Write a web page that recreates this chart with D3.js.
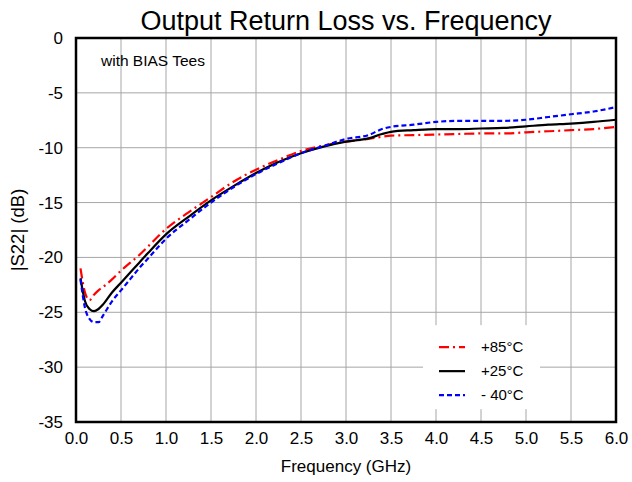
<!DOCTYPE html>
<html>
<head>
<meta charset="utf-8">
<script src="https://cdn.jsdelivr.net/npm/d3@7"></script>
<style>
  body { margin: 0; background: #fff; }
  text { font-family: "Liberation Sans", Arial, sans-serif; fill: #000; }
</style>
</head>
<body>
<div id="viz"></div>
<script>
// frequency points (GHz)
var freq = [0.05, 0.1, 0.15, 0.2, 0.25, 0.3, 0.4, 0.5, 0.6, 0.7, 0.8, 1.0, 1.25, 1.5, 1.75,
  2.0, 2.25, 2.5, 2.75, 3.0, 3.25, 3.4, 3.5, 3.75, 4.0, 4.25, 4.5, 4.75, 5.0, 5.25, 5.5, 5.75, 6.0];

// |S22| in dB for each temperature
var s22_85 = [-21.0, -23.2, -23.9, -23.4, -23.0, -22.7, -22.0, -21.2, -20.5, -19.8, -19.0, -17.4, -15.9, -14.5, -13.1,
  -12.0, -11.1, -10.3, -9.8, -9.45, -9.2, -9.0, -8.9, -8.85, -8.8, -8.75, -8.7, -8.7, -8.6, -8.5, -8.4, -8.3, -8.1];
var s22_25 = [-21.9, -24.0, -24.7, -24.9, -24.7, -24.3, -23.2, -22.3, -21.4, -20.5, -19.6, -17.9, -16.3, -14.8, -13.5,
  -12.3, -11.3, -10.5, -9.9, -9.45, -9.15, -8.75, -8.55, -8.4, -8.3, -8.3, -8.25, -8.2, -8.05, -7.9, -7.8, -7.65, -7.45];
var s22_m40 = [-22.0, -24.6, -25.6, -25.9, -25.9, -25.3, -24.0, -23.0, -22.0, -21.0, -20.1, -18.3, -16.6, -15.0, -13.6,
  -12.4, -11.4, -10.5, -9.85, -9.2, -8.85, -8.3, -8.1, -7.9, -7.65, -7.55, -7.55, -7.55, -7.45, -7.2, -6.95, -6.7, -6.3];

var xTicks = [0, 0.5, 1, 1.5, 2, 2.5, 3, 3.5, 4, 4.5, 5, 5.5, 6];
var yTicks = [0, -5, -10, -15, -20, -25, -30, -35];
var legendLabels = ["+85°C", "+25°C", "- 40°C"];

var series = [
  {name: legendLabels[0], values: s22_85, color: "#ff0000", dash: "10,4,2,4"},
  {name: legendLabels[1], values: s22_25, color: "#000000", dash: null},
  {name: legendLabels[2], values: s22_m40, color: "#0000ff", dash: "5,3"}
];

// set the dimensions and margins of the graph
var margin = {top: 38, right: 16, bottom: 60, left: 76},
  width = 632 - margin.left - margin.right,
  height = 482 - margin.top - margin.bottom;

var svg = d3.select("#viz")
  .append("svg")
    .attr("width", 632)
    .attr("height", 482);

var g = svg.append("g")
  .attr("transform", "translate(" + margin.left + "," + margin.top + ")");

var x = d3.scaleLinear().domain([0, 6]).range([0, width]);
var y = d3.scaleLinear().domain([-35, 0]).range([height, 0]);

// gridlines
g.append("g")
  .selectAll("line")
  .data(xTicks)
  .enter().append("line")
    .attr("x1", function(d) { return x(d); })
    .attr("x2", function(d) { return x(d); })
    .attr("y1", 0).attr("y2", height)
    .style("stroke", "#a6a6a6").style("stroke-width", 1);

g.append("g")
  .selectAll("line")
  .data(yTicks)
  .enter().append("line")
    .attr("y1", function(d) { return y(d); })
    .attr("y2", function(d) { return y(d); })
    .attr("x1", 0).attr("x2", width)
    .style("stroke", "#a6a6a6").style("stroke-width", 1);

// axes (labels only, border drawn separately)
var xAxis = g.append("g")
  .attr("transform", "translate(0," + height + ")")
  .call(d3.axisBottom(x).tickValues(xTicks).tickSize(0).tickPadding(10).tickFormat(d3.format(".1f")));
xAxis.select(".domain").remove();
xAxis.selectAll("text").style("font-size", "17px").style("font-family", "Liberation Sans, Arial, sans-serif");

var yAxis = g.append("g")
  .call(d3.axisLeft(y).tickValues(yTicks).tickSize(0).tickPadding(13).tickFormat(function(d) { return String(d); }));
yAxis.select(".domain").remove();
yAxis.selectAll("text").style("font-size", "17px").style("font-family", "Liberation Sans, Arial, sans-serif");

// curves
var line = d3.line()
  .x(function(d) { return x(d[0]); })
  .y(function(d) { return y(d[1]); })
  .curve(d3.curveMonotoneX);

g.append("g")
  .selectAll("path")
  .data(series)
  .enter().append("path")
    .attr("d", function(s) { return line(freq.map(function(f, i) { return [f, s.values[i]]; })); })
    .style("fill", "none")
    .style("stroke", function(s) { return s.color; })
    .style("stroke-width", 2.2)
    .style("stroke-dasharray", function(s) { return s.dash; });

// plot border
g.append("rect")
  .attr("width", width).attr("height", height)
  .style("fill", "none").style("stroke", "#000").style("stroke-width", 2.5);

// annotation
g.append("text")
  .attr("x", 25).attr("y", 28)
  .style("font-size", "15.5px")
  .text("with BIAS Tees");

// legend
var legend = g.append("g").attr("transform", "translate(" + (x(4) - 13) + "," + (y(-30) - 42) + ")");
legend.append("rect")
  .attr("width", 117).attr("height", 84)
  .style("fill", "#fff");
var items = legend.selectAll("g")
  .data(series)
  .enter().append("g")
    .attr("transform", function(d, i) { return "translate(0," + (22 + i * 24) + ")"; });
items.append("line")
  .attr("x1", 16).attr("x2", 42)
  .style("stroke", function(d) { return d.color; })
  .style("stroke-width", 2.2)
  .style("stroke-dasharray", function(d) { return d.dash; });
items.append("text")
  .attr("x", 58).attr("dy", "0.35em")
  .style("font-size", "15px")
  .text(function(d) { return d.name; });

// titles
svg.append("text")
  .attr("x", margin.left + width / 2).attr("y", 30)
  .attr("text-anchor", "middle")
  .style("font-size", "27px")
  .text("Output Return Loss vs. Frequency");

svg.append("text")
  .attr("x", margin.left + width / 2).attr("y", 472)
  .attr("text-anchor", "middle")
  .style("font-size", "17px")
  .text("Frequency (GHz)");

svg.append("text")
  .attr("transform", "translate(24," + (margin.top + height / 2) + ") rotate(-90)")
  .attr("text-anchor", "middle")
  .style("font-size", "18.5px")
  .text("|S22| (dB)");
</script>
</body>
</html>
